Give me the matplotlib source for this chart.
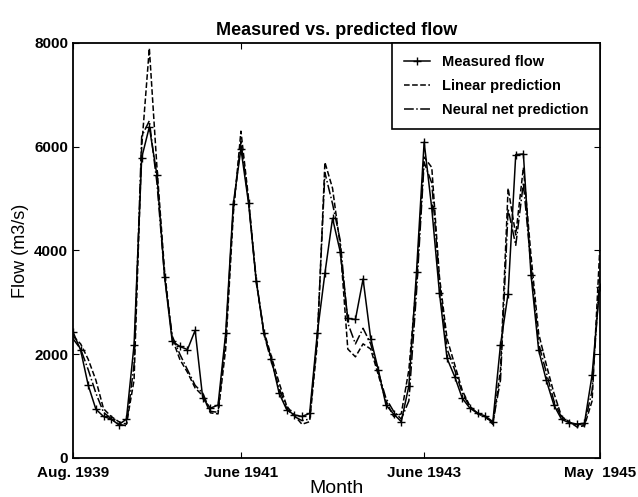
import matplotlib.pyplot as plt
import numpy as np

plt.rcParams['font.family'] = ['Liberation Sans', 'DejaVu Sans']
plt.rcParams['font.weight'] = 'bold'

# monthly flow, Aug 1939 .. May 1945
measured = [2430, 2080, 1400, 940, 800, 750, 640, 750, 2180, 5790,
            6380, 5450, 3490, 2250, 2150, 2090, 2460, 1150, 960, 1020,
            2400, 4900, 5960, 4910, 3420, 2410, 1900, 1250, 930, 830,
            800, 860, 2400, 3560, 4620, 3980, 2690, 2670, 3450, 2300,
            1700, 1020, 850, 700, 1390, 3590, 6090, 4810, 3190, 1920,
            1570, 1150, 960, 860, 810, 700, 2180, 3170, 5850, 5860,
            3530, 2080, 1500, 1020, 745, 680, 655, 668, 1600, 3300]
linear = [2350, 2200, 1900, 1500, 950, 800, 700, 650, 1500, 6000,
          7900, 5600, 3600, 2300, 1900, 1650, 1350, 1200, 870, 850,
          2100, 4700, 6300, 5000, 3400, 2450, 1950, 1450, 1000, 820,
          650, 700, 2200, 5700, 5200, 4100, 2100, 1950, 2200, 2100,
          1600, 1100, 800, 850, 1700, 3400, 5800, 5600, 3500, 2300,
          1800, 1300, 1000, 850, 800, 650, 1700, 5200, 4300, 5600,
          3900, 2400, 1800, 1250, 800, 700, 600, 620, 1100, 4000]
neural = [2300, 2100, 1700, 1250, 880, 760, 650, 620, 1800, 6200,
          6500, 5300, 3500, 2350, 2000, 1700, 1400, 1250, 900, 880,
          2300, 4800, 6100, 4950, 3450, 2400, 1850, 1350, 950, 800,
          720, 750, 2300, 5500, 4900, 4200, 2600, 2200, 2500, 2200,
          1650, 1150, 900, 750, 1100, 3200, 5700, 5300, 3400, 2100,
          1700, 1250, 980, 870, 790, 680, 1500, 4800, 4100, 5300,
          3700, 2200, 1650, 1100, 780, 690, 620, 640, 1300, 3500]
tick_pos = [0, 22, 46, 69]
tick_labels = ["Aug. 1939", "June 1941", "June 1943", "May  1945"]

months = np.arange(len(measured))

fig = plt.figure(figsize=(6.38, 4.97), dpi=100)
ax = fig.add_axes([0.1144, 0.0785, 0.8256, 0.835])

ax.plot(months, measured, '-', color='black', lw=1.1, marker='+', ms=6,
        mew=1.0, label='Measured flow')
ax.plot(months, linear, '--', color='black', lw=1.1, label='Linear prediction')
ax.plot(months, neural, '-.', color='black', lw=1.1, label='Neural net prediction')

ax.set_xlim(0, 69)
ax.set_ylim(0, 8000)
ax.set_xticks(tick_pos)
ax.set_xticklabels(tick_labels)
ax.set_yticks(range(0, 8001, 2000))
ax.tick_params(direction='in', top=True, right=True, labelsize=11, length=4)
ax.tick_params(axis='x', pad=6)
for s in ax.spines.values():
    s.set_linewidth(1.3)

ax.set_title('Measured vs. predicted flow', fontsize=13, fontweight='bold')
ax.set_xlabel('Month', fontsize=14, labelpad=0, fontweight='normal')
ax.set_ylabel('Flow (m3/s)', fontsize=13, fontweight='normal')

leg = ax.legend(loc='upper right', fontsize=10.5, fancybox=False, framealpha=1,
                edgecolor='black', handlelength=1.8, borderaxespad=0,
                labelspacing=0.7, borderpad=0.8)
leg.get_frame().set_linewidth(1.2)

fig.savefig('out.png', dpi=100)
